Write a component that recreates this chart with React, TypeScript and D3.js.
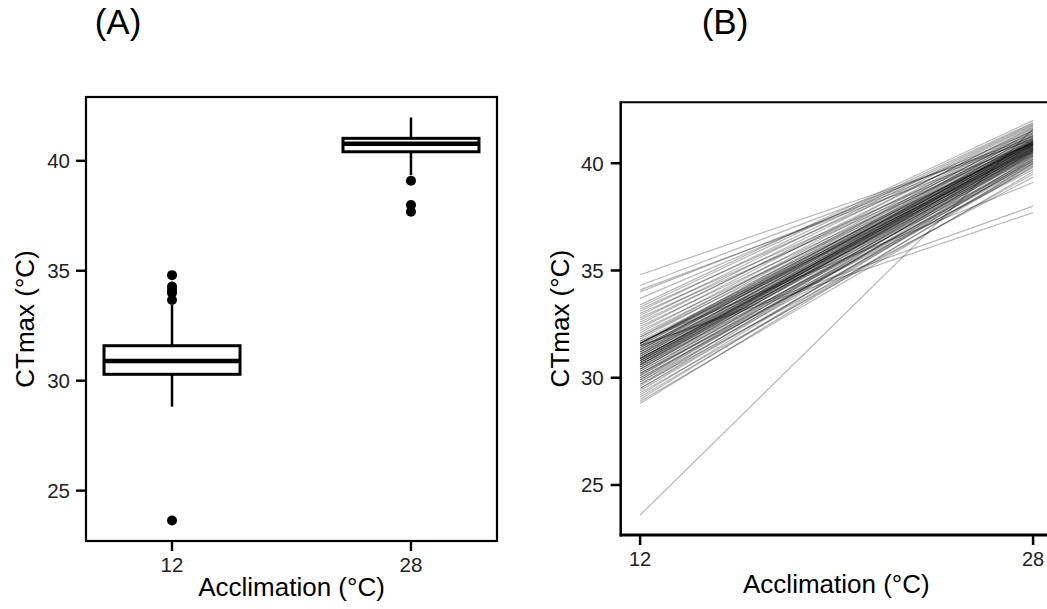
import React from "react";
import * as d3 from "d3";

// ---------- Data ----------
const groups = ["12", "28"];
const boxQ1 = [30.29, 40.41];
const boxMedian = [30.9, 40.77];
const boxQ3 = [31.59, 41.02];
const whiskerLow = [28.82, 39.35];
const whiskerHigh = [33.44, 41.97];
const outliers12 = [34.8, 34.28, 34.12, 33.99, 33.67, 23.64];
const outliers28 = [39.09, 37.99, 37.68];

const yTicks = [25, 30, 35, 40];
const acclimTemps = [12, 28];

// paired individual values for panel B
const ctmax12 = [
  23.6,
  28.8, 28.9, 29.0, 29.1, 29.2, 29.3, 29.4, 29.5, 29.5, 29.6, 29.7, 29.7, 29.8, 29.8, 29.9, 29.9, 30.0, 30.0, 30.1, 30.1, 30.2, 30.2, 30.2, 30.3,
  30.3, 30.4, 30.4, 30.4, 30.5, 30.5, 30.5, 30.6, 30.6, 30.6, 30.6, 30.7, 30.7, 30.7, 30.7, 30.8, 30.8, 30.8, 30.8, 30.9, 30.9, 30.9, 30.9, 30.9, 30.9,
  31.0, 31.0, 31.0, 31.1, 31.1, 31.1, 31.2, 31.2, 31.2, 31.3, 31.3, 31.3, 31.4, 31.4, 31.4, 31.5, 31.5, 31.5, 31.5, 31.6, 31.6, 31.6, 31.6, 31.6, 31.6,
  31.7, 31.7, 31.8, 31.9, 31.9, 32.0, 32.1, 32.2, 32.3, 32.4, 32.5, 32.6, 32.7, 32.8, 32.9, 33.0, 33.1, 33.2, 33.3, 33.4, 33.7, 34.0, 34.1, 34.3, 34.8,
];
const ctmax28 = [
  41.6,
  40.0, 39.6, 40.2, 39.85, 40.3, 39.5, 40.1, 40.45, 39.9, 40.6, 39.35, 40.25, 40.5, 39.8, 40.15, 40.7, 40.05, 39.95, 40.55, 40.35, 40.0, 39.7, 40.65, 40.2,
  40.4, 40.8, 40.3, 40.75, 40.1, 40.9, 40.5, 40.6, 41.0, 40.35, 40.7, 40.45, 40.85, 40.55, 41.1, 40.65, 40.4, 40.95, 40.75, 40.6, 41.05, 40.7, 40.5, 40.85, 40.8,
  40.9, 41.2, 40.75, 41.0, 40.55, 41.15, 40.8, 41.3, 40.65, 41.0, 40.95, 41.4, 40.7, 40.85, 41.05, 37.7, 41.25, 40.9, 38.0, 41.5, 40.8, 41.1, 40.95, 41.35, 40.6,
  41.0, 39.1, 41.45, 40.9, 41.55, 41.2, 41.6, 40.85, 41.7, 41.0, 41.65, 41.3, 41.75, 40.95, 41.8, 41.05, 41.85, 41.4, 41.9, 42.0, 41.5, 41.15, 40.9, 41.25, 41.1,
];

const FONT = "'Liberation Sans', Arial, sans-serif";

export default function App() {
  // ---------- Panel A scales ----------
  const aLeft = 86, aRight = 497, aTop = 97, aBottom = 541;
  const xA = d3.scalePoint<string>().domain(groups).range([aLeft, aRight]).padding(0.36);
  const yA = d3.scaleLinear().domain([22.71, 42.9]).range([aBottom, aTop]);
  const boxW = 136;
  const outliers = [outliers12, outliers28];

  // ---------- Panel B scales ----------
  const bLeft = 620.7, bRight = 1052, bTop = 102.3, bBottom = 535;
  const xB = d3.scaleLinear().domain([11.21, 28.77]).range([bLeft, bRight]);
  const yB = d3.scaleLinear().domain([22.67, 42.84]).range([bBottom, bTop]);
  const line = d3.line<[number, number]>().x((d) => xB(d[0])).y((d) => yB(d[1]));

  const aMidY = (aTop + aBottom) / 2;
  const bMidY = (bTop + bBottom) / 2;

  return (
    <svg
      width={1047}
      height={609}
      style={{ position: "absolute", left: 0, top: 0, background: "#fff" }}
      fontFamily={FONT}
    >
      <rect x={0} y={0} width={1047} height={609} fill="#fff" />

      {/* Panel titles */}
      <text x={118} y={33.5} fontSize={35} textAnchor="middle" fill="#000">(A)</text>
      <text x={725} y={33.5} fontSize={35} textAnchor="middle" fill="#000">(B)</text>

      {/* ---------------- Panel A ---------------- */}
      <g>
        {groups.map((g, i) => {
          const cx = xA(g) as number;
          return (
            <g key={g}>
              <line x1={cx} x2={cx} y1={yA(whiskerHigh[i])} y2={yA(boxQ3[i])} stroke="#000" strokeWidth={2.5} />
              <line x1={cx} x2={cx} y1={yA(boxQ1[i])} y2={yA(whiskerLow[i])} stroke="#000" strokeWidth={2.5} />
              <rect
                x={cx - boxW / 2}
                y={yA(boxQ3[i])}
                width={boxW}
                height={yA(boxQ1[i]) - yA(boxQ3[i])}
                fill="#fff"
                stroke="#000"
                strokeWidth={3}
              />
              <line x1={cx - boxW / 2} x2={cx + boxW / 2} y1={yA(boxMedian[i])} y2={yA(boxMedian[i])} stroke="#000" strokeWidth={4.5} />
              {outliers[i].map((v, j) => (
                <circle key={j} cx={cx} cy={yA(v)} r={5} fill="#000" />
              ))}
            </g>
          );
        })}
        <rect x={aLeft} y={aTop} width={aRight - aLeft} height={aBottom - aTop} fill="none" stroke="#000" strokeWidth={2.2} />
        {yTicks.map((t) => (
          <g key={t}>
            <line x1={aLeft - 10} x2={aLeft} y1={yA(t)} y2={yA(t)} stroke="#000" strokeWidth={2.4} />
            <text x={aLeft - 16} y={yA(t)} dy="0.36em" fontSize={20.5} textAnchor="end" fill="#222">{t}</text>
          </g>
        ))}
        {groups.map((g) => (
          <g key={g}>
            <line x1={xA(g)} x2={xA(g)} y1={aBottom} y2={aBottom + 10} stroke="#000" strokeWidth={2.4} />
            <text x={xA(g)} y={572} fontSize={20.5} textAnchor="middle" fill="#222">{g}</text>
          </g>
        ))}
        <text x={(aLeft + aRight) / 2} y={596} fontSize={26} textAnchor="middle" fill="#000">Acclimation (°C)</text>
        <text transform={`translate(34,${aMidY}) rotate(-90)`} fontSize={26} textAnchor="middle" fill="#000">CTmax (°C)</text>
      </g>

      {/* ---------------- Panel B ---------------- */}
      <g>
        {ctmax12.map((v, i) => (
          <path
            key={i}
            d={line([[acclimTemps[0], v], [acclimTemps[1], ctmax28[i]]]) as string}
            fill="none"
            stroke="#000"
            strokeOpacity={0.28}
            strokeWidth={1.25}
          />
        ))}
        <line x1={bLeft} x2={bRight} y1={bTop} y2={bTop} stroke="#000" strokeWidth={2} />
        <line x1={bLeft} x2={bLeft} y1={bTop - 1} y2={bBottom + 1.5} stroke="#000" strokeWidth={2.5} />
        <line x1={bLeft - 1} x2={bRight} y1={bBottom} y2={bBottom} stroke="#000" strokeWidth={3} />
        {yTicks.map((t) => (
          <g key={t}>
            <line x1={bLeft - 10} x2={bLeft} y1={yB(t)} y2={yB(t)} stroke="#000" strokeWidth={2.5} />
            <text x={bLeft - 17} y={yB(t)} dy="0.36em" fontSize={20.5} textAnchor="end" fill="#222">{t}</text>
          </g>
        ))}
        {acclimTemps.map((t) => (
          <g key={t}>
            <line x1={xB(t)} x2={xB(t)} y1={bBottom} y2={bBottom + 10} stroke="#000" strokeWidth={2.5} />
            <text x={xB(t)} y={565.5} fontSize={20} textAnchor="middle" fill="#222">{t}</text>
          </g>
        ))}
        <text x={(bLeft + bRight) / 2} y={593} fontSize={26} textAnchor="middle" fill="#000">Acclimation (°C)</text>
        <text transform={`translate(569,${bMidY}) rotate(-90)`} fontSize={26} textAnchor="middle" fill="#000">CTmax (°C)</text>
      </g>
    </svg>
  );
}
